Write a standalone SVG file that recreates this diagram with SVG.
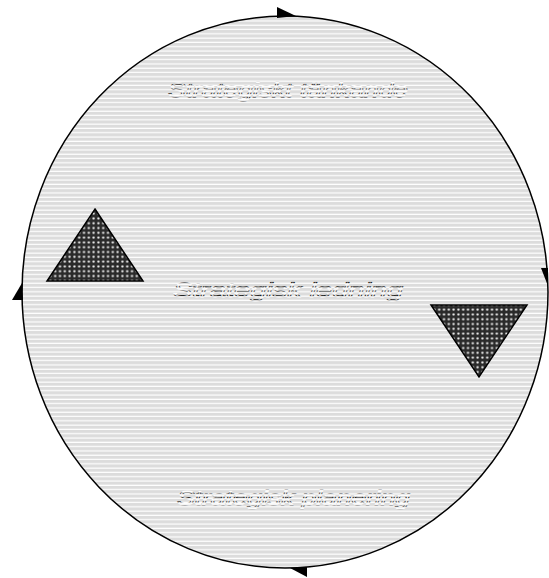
<svg xmlns="http://www.w3.org/2000/svg" width="549" height="578" viewBox="0 0 549 578">
<defs>
<pattern id="hatch" patternUnits="userSpaceOnUse" width="8" height="4.3">
<rect width="8" height="4.3" fill="#ffffff"/>
<rect width="8" height="3.1" fill="#dcdcdc"/>
</pattern>
<pattern id="dots" patternUnits="userSpaceOnUse" width="4.8" height="4.8">
<rect width="4.8" height="4.8" fill="#2a2a2a"/>
<circle cx="2.4" cy="2.4" r="1.3" fill="#bdbdbd"/>
<circle cx="2.4" cy="2.4" r="0.6" fill="#ffffff"/>
</pattern>
<pattern id="txt" patternUnits="userSpaceOnUse" width="8" height="4.3">
<rect width="8" height="4.3" fill="#ffffff"/>
<rect width="8" height="1.3" y="2.3" fill="#111"/>
</pattern>
<style>
.lbl{font-family:"Liberation Sans",Arial,sans-serif;font-style:italic;font-size:21px;fill:#f6f6f6;stroke:url(#txt);stroke-width:0.8;}
.tri{fill:url(#dots);stroke:#000;stroke-width:1.5;}
.head{fill:#000;}
</style>
</defs>
<g id="cycle">
<ellipse cx="285" cy="292" rx="263" ry="276" fill="url(#hatch)" stroke="#000" stroke-width="1.5"/>
</g>
<g id="labels">
<text class="lbl" x="168" y="97" textLength="240" lengthAdjust="spacingAndGlyphs">Strategiskt tänkande</text>
<text class="lbl" x="173" y="297" textLength="230" lengthAdjust="spacingAndGlyphs">Strategisk ledning</text>
<text class="lbl" x="177" y="505" textLength="233" lengthAdjust="spacingAndGlyphs">Strategisk planering</text>
</g>
<g id="triangle-up">
<polygon class="tri" points="95,209 143,281 47,281"/>
</g>
<g id="triangle-down">
<polygon class="tri" points="431,305 527,305 479,377"/>
</g>
<g id="connectors">
<polygon class="head" points="277,7 296,16 277,18"/>
<polygon class="head" points="548,268 541,268 548,286"/>
<polygon class="head" points="307,567 307,577 290,568"/>
<polygon class="head" points="22,283 23,300 12,300"/>
</g>
</svg>
